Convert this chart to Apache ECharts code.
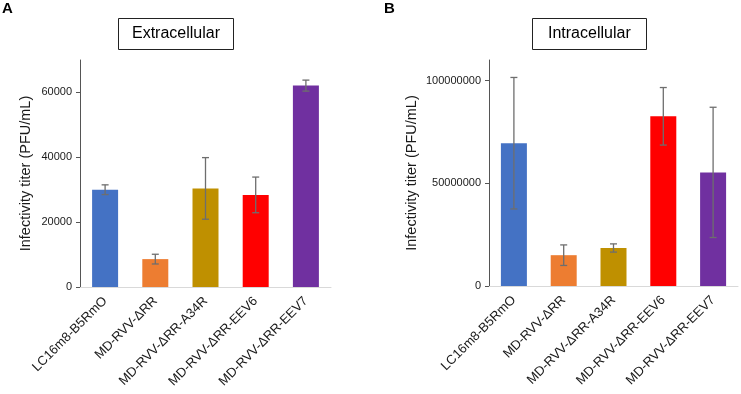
<!DOCTYPE html>
<html><head><meta charset="utf-8">
<script src="https://cdn.jsdelivr.net/npm/echarts@6/dist/echarts.min.js"></script>
<style>html,body{margin:0;padding:0;background:#fff}#c{width:741px;height:394px}</style>
</head><body><div id="c"></div>
<script>
var categories = ['LC16m8-B5RmO', 'MD-RVV-ΔRR', 'MD-RVV-ΔRR-A34R', 'MD-RVV-ΔRR-EEV6', 'MD-RVV-ΔRR-EEV7'];
var barColors = ['#4472C4', '#ED7D31', '#BF9000', '#FF0000', '#7030A0'];
var extValues = [30000, 8600, 30400, 28400, 62100];
var extErrors = [1500, 1500, 9500, 5500, 1700];
var intValues = [69500000, 15000000, 18500000, 82600000, 55300000];
var intErrors = [32000000, 5000000, 2000000, 14000000, 31700000];
var extTicks = [0, 20000, 40000, 60000];
var intTicks = [0, 50000000, 100000000];

var FONT = '"Liberation Sans", Arial, sans-serif';

function barData(vals) {
  return vals.map(function (v, i) { return { value: v, itemStyle: { color: barColors[i] } }; });
}
function errData(vals, errs) {
  return vals.map(function (v, i) { return [i, v - errs[i], v + errs[i]]; });
}
function renderErr(params, api) {
  var x = api.value(0);
  var lo = api.coord([x, api.value(1)]);
  var hi = api.coord([x, api.value(2)]);
  var cap = 3.5;
  var st = { stroke: '#6e6e6e', lineWidth: 1.3 };
  return {
    type: 'group',
    children: [
      { type: 'line', shape: { x1: lo[0], y1: lo[1], x2: hi[0], y2: hi[1] }, style: st },
      { type: 'line', shape: { x1: lo[0] - cap, y1: lo[1], x2: lo[0] + cap, y2: lo[1] }, style: st },
      { type: 'line', shape: { x1: hi[0] - cap, y1: hi[1], x2: hi[0] + cap, y2: hi[1] }, style: st }
    ]
  };
}
function xAx(gi) {
  return {
    type: 'category', gridIndex: gi, data: categories,
    axisLine: { lineStyle: { color: '#d9d9d9', width: 1 } },
    axisTick: { show: false },
    axisLabel: { rotate: 45, fontSize: 13, color: '#1a1a1a', fontFamily: FONT, margin: 12, interval: 0 }
  };
}
function yAx(gi, max, interval, gap, ticks) {
  return {
    type: 'value', gridIndex: gi, min: 0, max: max, interval: interval,
    name: 'Infectivity titer (PFU/mL)', nameLocation: 'middle', nameGap: gap,
    nameTextStyle: { fontSize: 14.5, color: '#1a1a1a', fontFamily: FONT },
    splitLine: { show: false },
    axisLine: { show: true, lineStyle: { color: '#555', width: 1 } },
    axisTick: { show: true, length: 4, lineStyle: { color: '#555' } },
    axisLabel: {
      fontSize: 11, color: '#1a1a1a', fontFamily: FONT, margin: 8, showMaxLabel: false,
      formatter: function (v) { return ticks.indexOf(v) >= 0 ? String(v) : ''; }
    }
  };
}
var chart = echarts.init(document.getElementById('c'), null, { renderer: 'canvas' });
chart.setOption({
  animation: false,
  backgroundColor: '#fff',
  title: [
    { text: 'A', left: 2, top: 1, padding: 0, textStyle: { fontSize: 15, fontWeight: 'bold', color: '#000', fontFamily: FONT } },
    { text: 'B', left: 384, top: 1, padding: 0, textStyle: { fontSize: 15, fontWeight: 'bold', color: '#000', fontFamily: FONT } },
    { text: 'Extracellular', left: 118, top: 18, padding: [8, 14, 8, 14], borderColor: '#222', borderWidth: 1,
      textStyle: { fontSize: 16, fontWeight: 'normal', color: '#000', fontFamily: FONT } },
    { text: 'Intracellular', left: 532, top: 18, padding: [8, 16, 8, 16], borderColor: '#222', borderWidth: 1,
      textStyle: { fontSize: 16, fontWeight: 'normal', color: '#000', fontFamily: FONT } }
  ],
  grid: [
    { left: 80, right: 410, top: 60, bottom: 107 },
    { left: 489, right: 3, top: 60, bottom: 108 }
  ],
  xAxis: [xAx(0), xAx(1)],
  yAxis: [yAx(0, 70000, 20000, 47, extTicks), yAx(1, 110000000, 50000000, 70, intTicks)],
  series: [
    { type: 'bar', xAxisIndex: 0, yAxisIndex: 0, data: barData(extValues), barWidth: 26 },
    { type: 'custom', xAxisIndex: 0, yAxisIndex: 0, data: errData(extValues, extErrors), renderItem: renderErr, encode: { x: 0, y: [1, 2] }, z: 5 },
    { type: 'bar', xAxisIndex: 1, yAxisIndex: 1, data: barData(intValues), barWidth: 26 },
    { type: 'custom', xAxisIndex: 1, yAxisIndex: 1, data: errData(intValues, intErrors), renderItem: renderErr, encode: { x: 0, y: [1, 2] }, z: 5 }
  ]
});
</script></body></html>
